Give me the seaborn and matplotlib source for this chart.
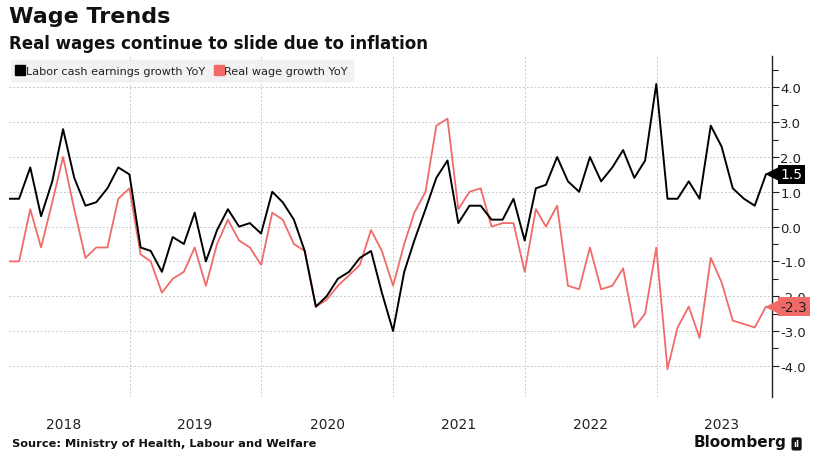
import pandas as pd
import seaborn as sns
import matplotlib
matplotlib.use('Agg')
from matplotlib import pyplot as plt
from matplotlib.lines import Line2D
import matplotlib.dates as mdates

# monthly YoY % (Jan 2018 - Oct 2023)
labor_cash = [0.8, 0.8, 1.7, 0.3, 1.3, 2.8, 1.4, 0.6, 0.7, 1.1, 1.7, 1.5,
              -0.6, -0.7, -1.3, -0.3, -0.5, 0.4, -1.0, -0.1, 0.5, 0.0, 0.1, -0.2,
              1.0, 0.7, 0.2, -0.7, -2.3, -2.0, -1.5, -1.3, -0.9, -0.7, -1.9, -3.0,
              -1.3, -0.4, 0.5, 1.4, 1.9, 0.1, 0.6, 0.6, 0.2, 0.2, 0.8, -0.4,
              1.1, 1.2, 2.0, 1.3, 1.0, 2.0, 1.3, 1.7, 2.2, 1.4, 1.9, 4.1,
              0.8, 0.8, 1.3, 0.8, 2.9, 2.3, 1.1, 0.8, 0.6, 1.5]
real_wage = [-1.0, -1.0, 0.5, -0.6, 0.7, 2.0, 0.5, -0.9, -0.6, -0.6, 0.8, 1.1,
             -0.8, -1.0, -1.9, -1.5, -1.3, -0.6, -1.7, -0.5, 0.2, -0.4, -0.6, -1.1,
             0.4, 0.2, -0.5, -0.7, -2.3, -2.1, -1.7, -1.4, -1.1, -0.1, -0.7, -1.7,
             -0.5, 0.4, 1.0, 2.9, 3.1, 0.5, 1.0, 1.1, 0.0, 0.1, 0.1, -1.3,
             0.5, 0.0, 0.6, -1.7, -1.8, -0.6, -1.8, -1.7, -1.2, -2.9, -2.5, -0.6,
             -4.1, -2.9, -2.3, -3.2, -0.9, -1.6, -2.7, -2.8, -2.9, -2.3]
months = pd.date_range('2018-01-31', periods=len(labor_cash), freq='ME')
yticks = [-4, -3, -2, -1, 0, 1, 2, 3, 4]

BLACK = '#000000'
RED = '#f06b68'

df = pd.DataFrame({'month': months, 'labor': labor_cash, 'real': real_wage})

sns.set_style('white')
plt.rcParams['font.family'] = ['DejaVu Sans']

fig = plt.figure(figsize=(8.17, 4.64), dpi=100)
ax = fig.add_axes([0.011, 0.142, 0.934, 0.735])

sns.lineplot(data=df, x='month', y='labor', color=BLACK, linewidth=1.4, ax=ax, zorder=4)
sns.lineplot(data=df, x='month', y='real', color=RED, linewidth=1.3, ax=ax, zorder=3)

ax.set_xlim(months[0], pd.Timestamp('2023-11-17'))
ax.set_ylim(-4.9, 4.9)
ax.set_xlabel('')
ax.set_ylabel('')

# x axis: year labels mid-year, gridlines at year start
ax.xaxis.set_major_locator(mdates.MonthLocator(bymonth=7, bymonthday=1))
ax.xaxis.set_major_formatter(mdates.DateFormatter('%Y'))
ax.xaxis.set_minor_locator(mdates.YearLocator())
ax.tick_params(axis='x', which='both', length=0, pad=14, labelsize=10, labelcolor='#222222')
ax.grid(axis='x', which='minor', color='#c8c8c8', linestyle=(0, (2, 2)), linewidth=0.7)
ax.grid(axis='x', which='major', visible=False)

# y axis on the right
ax.yaxis.tick_right()
ax.set_yticks(yticks)
ax.set_yticks([v + 0.5 for v in yticks[:-1]] + [4.5], minor=True)
ax.set_yticklabels([f'{v:.1f}' for v in yticks])
ax.tick_params(axis='y', which='major', length=5, width=0.8, pad=1, labelsize=9.5,
               colors='#222222')
ax.tick_params(axis='y', which='minor', length=4, width=0.8, colors='#222222', right=True)
ax.grid(axis='y', which='major', color='#c8c8c8', linestyle=(0, (2, 2)), linewidth=0.7)

for s in ['left', 'top', 'bottom']:
    ax.spines[s].set_visible(False)
ax.spines['right'].set_color('#222222')
ax.spines['right'].set_linewidth(1)

# legend
handles = [Line2D([], [], marker='s', linestyle='', color=BLACK, markersize=7),
           Line2D([], [], marker='s', linestyle='', color=RED, markersize=7)]
leg = ax.legend(handles, ['Labor cash earnings growth YoY', 'Real wage growth YoY'],
                loc='upper left', bbox_to_anchor=(0.0, 0.995), ncol=2, frameon=True,
                fontsize=8.1, handlelength=0.6, handletextpad=0.2, columnspacing=0.9,
                borderpad=0.5, fancybox=False, borderaxespad=0.2)
leg.get_frame().set_facecolor('#efefef')
leg.get_frame().set_edgecolor('#efefef')
for t in leg.get_texts():
    t.set_color('#222222')

# last value tags
xr = ax.get_xlim()[1]
for vals, fill, tcol in [(labor_cash, BLACK, 'white'), (real_wage, RED, '#222222')]:
    last = vals[-1]
    ax.plot([xr], [last], marker='<', markersize=10, color=fill, clip_on=False, zorder=6,
            markeredgewidth=0)
    ax.annotate(f'{last:.1f}', xy=(1.0, last), xycoords=('axes fraction', 'data'),
                xytext=(6, 0), textcoords='offset points', va='center', ha='left',
                fontsize=10, color=tcol, zorder=7, annotation_clip=False,
                bbox=dict(boxstyle='square,pad=0.2', facecolor=fill, edgecolor='none'))

# titles and footer
fig.text(0.011, 0.985, 'Wage Trends', fontsize=16, fontweight='bold', va='top', color='#111111')
fig.text(0.011, 0.925, 'Real wages continue to slide due to inflation', fontsize=12,
         fontweight='bold', va='top', color='#111111')
fig.text(0.015, 0.037, 'Source: Ministry of Health, Labour and Welfare', fontsize=8.2,
         fontweight='bold', va='baseline', color='#111111')
fig.text(0.963, 0.037, 'Bloomberg', fontsize=11, fontweight='bold', va='baseline', ha='right',
         color='#111111')
fig.text(0.975, 0.041, 'ıl', fontsize=6, fontweight='bold', va='center', ha='center',
         color='white', bbox=dict(boxstyle='round,pad=0.25', facecolor='#111111', edgecolor='none'))

fig.savefig('out.png', dpi=100)
